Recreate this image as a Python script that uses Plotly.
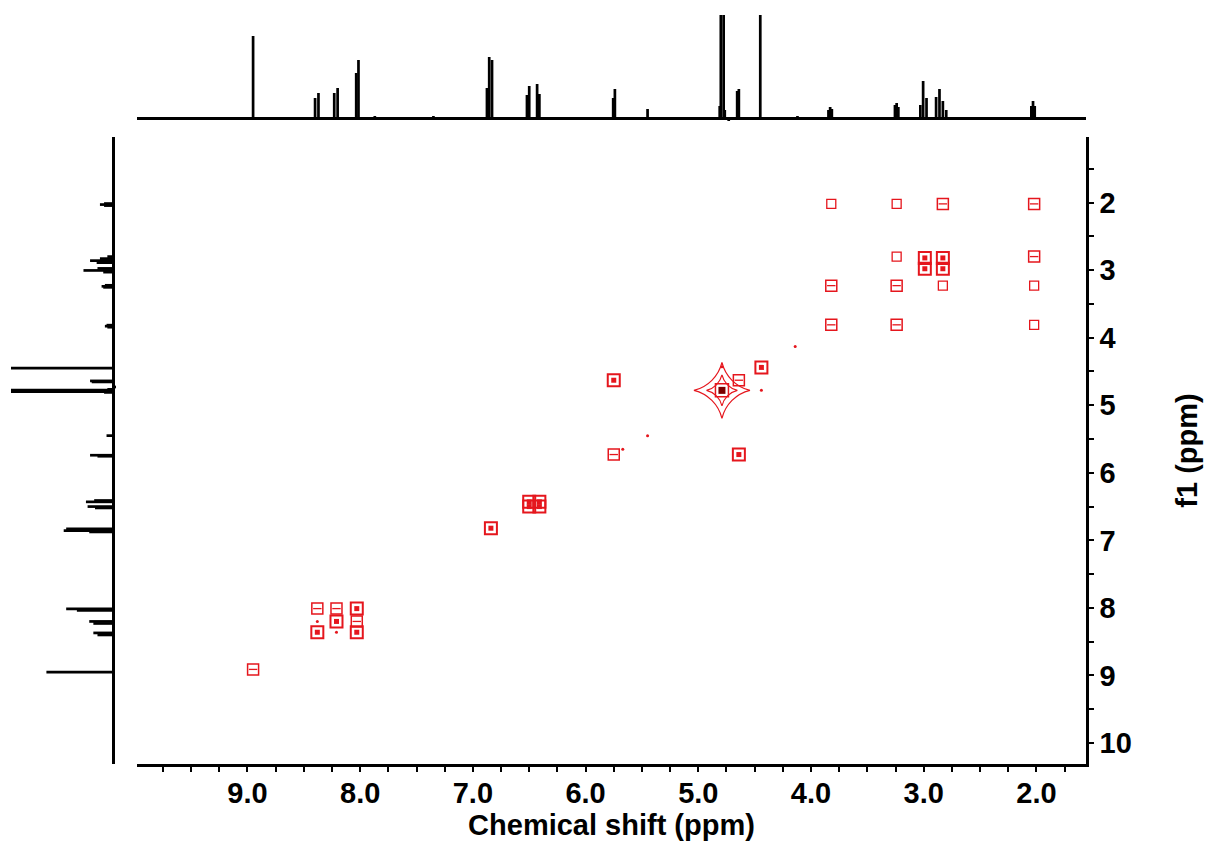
import plotly.graph_objects as go

# 1D proton spectrum (ppm, relative intensity)
peak_ppm = [8.95, 8.40, 8.37, 8.23, 8.20, 8.035, 8.015, 7.87, 7.35,
            6.875, 6.855, 6.83, 6.52, 6.50, 6.43, 6.41, 5.755, 5.74, 5.45,
            4.81, 4.80, 4.775, 4.765, 4.73, 4.655, 4.64, 4.45, 4.12,
            3.845, 3.83, 3.815, 3.255, 3.24, 3.225,
            3.03, 3.005, 2.975, 2.89, 2.86, 2.83, 2.80,
            2.045, 2.03, 2.015]
peak_int = [82, 20, 25, 25, 30, 45, 58, 2, 2,
            30, 61, 58, 23, 32, 34, 24, 20, 29, 9,
            12, 300, 300, 8, -3, 27, 29, 300, 2,
            8, 11, 9, 13, 15, 11,
            13, 37, 20, 21, 29, 17, 8,
            12, 17, 12]

# COSY cross peaks: f2, f1 and a rough intensity class (0 weak .. 3 strong)
cross_f2 = [3.82, 3.24, 2.83, 2.02,
            3.24, 2.99, 2.83, 2.99, 2.83, 2.02,
            3.82, 3.24, 2.83, 2.02,
            3.82, 3.24, 2.02,
            4.14, 4.79, 4.44, 4.64, 4.44,
            4.64, 5.75, 5.75, 5.45, 5.67,
            6.50, 6.41, 6.50, 6.41, 6.84,
            8.38, 8.21, 8.03, 8.38, 8.21, 8.03, 8.38, 8.21, 8.03,
            8.95]
cross_f1 = [2.02, 2.02, 2.02, 2.02,
            2.80, 2.82, 2.82, 2.98, 2.98, 2.80,
            3.23, 3.23, 3.23, 3.23,
            3.81, 3.81, 3.81,
            4.13, 4.43, 4.44, 4.63, 4.78,
            5.73, 4.63, 5.73, 5.45, 5.65,
            6.43, 6.43, 6.50, 6.50, 6.82,
            8.01, 8.01, 8.01, 8.20, 8.20, 8.20, 8.36, 8.36, 8.36,
            8.91]
cross_lvl = [1, 1, 2, 2,
             1, 3, 3, 3, 3, 2,
             2, 2, 1, 1,
             2, 2, 1,
             0, 0, 3, 2, 0,
             3, 3, 2, 0, 0,
             3, 3, 3, 3, 3,
             2, 2, 3, 0, 3, 2, 3, 0, 3,
             2]

# water diagonal peak (star shaped contour)
water_f2 = [4.79]
water_f1 = [4.78]

W, H = 1214, 855
RED = '#e5161d'
FONT = dict(family='Liberation Sans, Arial', size=29, color='black', weight='bold')


def fx(p):
    return p / W


def fy(p):
    return 1 - p / H


fig = go.Figure()

# top projection
fig.add_trace(go.Bar(x=peak_ppm, y=peak_int, width=0.024, xaxis='x2', yaxis='y2',
                     marker=dict(color='black', line=dict(width=0)), showlegend=False))
# left projection
fig.add_trace(go.Bar(y=peak_ppm, x=peak_int, width=0.04, orientation='h', xaxis='x3', yaxis='y3',
                     marker=dict(color='black', line=dict(width=0)), showlegend=False))

# cross peaks by class
styles = {
    0: [dict(symbol='circle', size=3, color=RED)],
    1: [dict(symbol='square-open', size=9, color=RED, line=dict(width=1.3, color=RED))],
    2: [dict(symbol='square-open', size=11, color=RED, line=dict(width=1.5, color=RED)),
        dict(symbol='line-ew-open', size=6, color=RED, line=dict(width=1.3, color=RED))],
    3: [dict(symbol='square-open', size=12, color=RED, line=dict(width=2, color=RED)),
        dict(symbol='square', size=5, color=RED, line=dict(width=0))],
}
for lvl, mlist in styles.items():
    xs = [a for a, l in zip(cross_f2, cross_lvl) if l == lvl]
    ys = [b for b, l in zip(cross_f1, cross_lvl) if l == lvl]
    for m in mlist:
        fig.add_trace(go.Scatter(x=xs, y=ys, mode='markers', marker=m, showlegend=False))

for m in [dict(symbol='star-diamond-open', size=40, color=RED, line=dict(width=1.2, color=RED)),
          dict(symbol='star-diamond-open', size=22, color=RED, line=dict(width=1.2, color=RED)),
          dict(symbol='square-open', size=13, color=RED, line=dict(width=1.5, color=RED)),
          dict(symbol='square', size=7, color='#7a0000', line=dict(width=0))]:
    fig.add_trace(go.Scatter(x=water_f2, y=water_f1, mode='markers', marker=m, showlegend=False))

x_dom = [fx(137), fx(1086)]
y_dom = [fy(764), fy(137)]
x_rng = [9.98, 1.56]
y_rng = [10.31, 1.03]

fig.update_layout(
    width=W, height=H,
    margin=dict(l=0, r=0, t=0, b=0),
    paper_bgcolor='white', plot_bgcolor='white',
    xaxis=dict(domain=x_dom, range=x_rng, showline=True, linecolor='black', linewidth=2.5,
               showgrid=False, zeroline=False, ticks='outside', ticklen=5, tickwidth=2,
               tickcolor='black', tick0=0, dtick=1, tickformat='.1f', tickfont=FONT,
               ticklabelstandoff=-4,
               minor=dict(ticks='outside', ticklen=5, tickwidth=2, tickcolor='black',
                          tick0=0, dtick=0.25),
               title=dict(text='Chemical shift (ppm)', font=FONT, standoff=2),
               anchor='y'),
    yaxis=dict(domain=y_dom, range=y_rng, side='right', showline=True, linecolor='black',
               linewidth=2.5, showgrid=False, zeroline=False, ticks='outside', ticklen=5,
               tickwidth=2, tickcolor='black', tick0=0, dtick=1, tickfont=FONT,
               minor=dict(ticks='outside', ticklen=5, tickwidth=2, tickcolor='black',
                          tick0=0, dtick=0.5),
               title=dict(text='f1 (ppm)', font=FONT, standoff=46),
               anchor='x'),
    xaxis2=dict(domain=x_dom, range=x_rng, showticklabels=False, showgrid=False,
                zeroline=False, showline=False, ticks='', anchor='y2'),
    yaxis2=dict(domain=[fy(121), fy(15)], range=[-3, 103], showticklabels=False,
                showgrid=False, zeroline=True, zerolinecolor='black', zerolinewidth=2.5,
                showline=False, ticks='', anchor='x2'),
    xaxis3=dict(domain=[fx(11), fx(116)], range=[125, -2.5], showticklabels=False,
                showgrid=False, zeroline=True, zerolinecolor='black', zerolinewidth=2.5,
                showline=False, ticks='', anchor='y3'),
    yaxis3=dict(domain=y_dom, range=y_rng, showticklabels=False, showgrid=False,
                zeroline=False, showline=False, ticks='', anchor='x3'),
)

fig.write_html("out.html", config={'displayModeBar': False},
               post_script="document.body.style.margin='0';")
